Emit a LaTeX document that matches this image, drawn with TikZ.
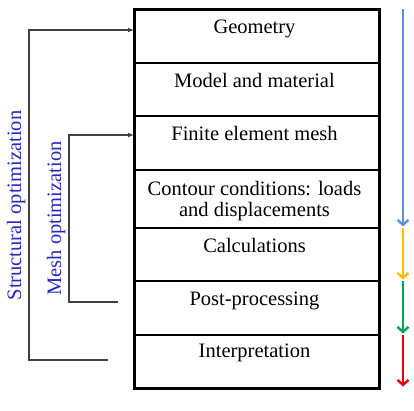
\documentclass[tikz,border=0pt]{standalone}
\usepackage{fontspec}
\setmainfont{Liberation Serif}
\usetikzlibrary{arrows.meta, positioning}
\definecolor{optblue}{RGB}{40,40,190}
\definecolor{flowblue}{RGB}{95,145,215}
\definecolor{flowyellow}{RGB}{250,190,0}
\definecolor{flowgreen}{RGB}{0,165,80}
\definecolor{flowred}{RGB}{230,0,20}
\tikzset{
  rowbox/.style = {draw, line width=1.6pt, minimum width=245pt, inner sep=0pt, outer sep=0pt},
  rowtext/.style = {anchor=base, align=center, xshift=-2pt, inner sep=0pt, font=\fontsize{20.5}{21.7}\selectfont},
  optlabel/.style = {rotate=90, anchor=base, inner sep=0pt, text=optblue, font=\fontsize{20.5}{21.7}\selectfont},
  link/.style = {draw=black!75, line width=1.3pt, -{Latex[length=6pt,width=5pt]}},
  flow/.style = {line width=2.4pt, shorten >=1.5pt, -{Straight Barb[length=5pt,width=11pt]}}
}

\begin{document}
\begin{tikzpicture}[x=1pt, y=-1pt]
  \useasboundingbox (0,0) rectangle (414,410);

  % the seven steps
  \node[rowbox, anchor=north, minimum height=54pt] (geo) at (256.5,9) {};
  \node[rowbox, minimum height=53pt, below=0pt of geo] (model) {};
  \node[rowbox, minimum height=54pt, below=0pt of model] (mesh) {};
  \node[rowbox, minimum height=58pt, below=0pt of mesh] (cont) {};
  \node[rowbox, minimum height=53pt, below=0pt of cont] (calc) {};
  \node[rowbox, minimum height=54pt, below=0pt of calc] (post) {};
  \node[rowbox, minimum height=53pt, below=0pt of post] (interp) {};
  \draw[line width=3pt] (geo.north west) rectangle (interp.south east);

  \node[rowtext] (geoText) at ([yshift=-24pt]geo.north) {Geometry};
  \node[rowtext] (modelText) at ([yshift=-24pt]model.north) {Model and material};
  \node[rowtext] (meshText) at ([yshift=-24pt]mesh.north) {Finite element mesh};
  \node[rowtext] (contText) at ([yshift=-46.7pt]cont.north) {Contour conditions: loads\\and displacements};
  \node[rowtext] (calcText) at ([yshift=-24pt]calc.north) {Calculations};
  \node[rowtext] (postText) at ([yshift=-24pt]post.north) {Post-processing};
  \node[rowtext] (interpText) at ([yshift=-22pt]interp.north) {Interpretation};

  % optimization loops
  \coordinate (structEnd) at (108,360);
  \coordinate (structTop) at (29,30);
  \draw[link] (structEnd) -| (structTop) -- (geo.west |- structTop);
  \node[optlabel] (structLabel) at (21,205.5) {Structural optimization};

  \coordinate (meshEnd) at (118,302);
  \coordinate (meshTop) at (69,135);
  \draw[link] (meshEnd) -| (meshTop) -- (mesh.west |- meshTop);
  \node[optlabel] (meshLabel) at (61,218.5) {Mesh optimization};

  % flow on the right
  \coordinate (flowX) at (403,0);
  \draw[flow, flowblue] (flowX |- geo.north) -- (flowX |- cont.south);
  \draw[flow, flowyellow] (flowX |- calc.north) -- (flowX |- calc.south);
  \draw[flow, flowgreen] (flowX |- post.north) -- (flowX |- post.south);
  \draw[flow, flowred] (flowX |- interp.north) -- (flowX |- interp.south);
\end{tikzpicture}
\end{document}
